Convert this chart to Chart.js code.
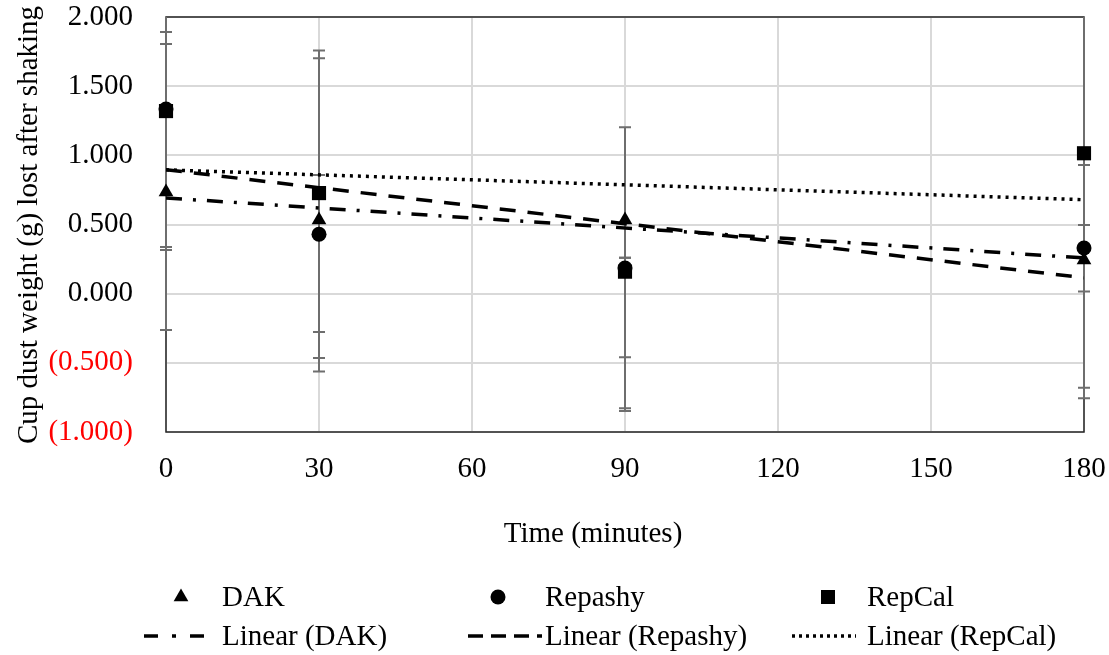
<!DOCTYPE html>
<html><head><meta charset="utf-8">
<script src="https://cdn.jsdelivr.net/npm/chart.js@4.4.1/dist/chart.umd.min.js"></script>
<style>html,body{margin:0;padding:0;background:#fff;} canvas{display:block;}</style>
</head><body>
<canvas id="c" width="1109" height="655"></canvas>
<script>
// ---- data ----
const times = [0, 30, 90, 180];
const dak = [0.735, 0.532, 0.533, 0.243];
const repashy = [1.335, 0.430, 0.185, 0.330];
const repcal = [1.320, 0.727, 0.159, 1.015];
const dakErrPlus = [1.070, 1.170, 0.670, 0.254];
const dakErrMinus = [0.419, 1.095, 0.993, 0.228];
const repashyErrPlus = [0.557, 0.428, 0.075, 0.600];
const repashyErrMinus = [0.997, 0.895, 1.014, 1.086];
const repcalErrPlus = [1.580, 1.030, 0.100, 1.700];
const repcalErrMinus = [1.582, 1.004, 1.007, 1.695];
const trendX = [0, 180];
const dakTrend = [0.692, 0.258];
const repashyTrend = [0.896, 0.115];
const repcalTrend = [0.895, 0.679];
const xTickValues = [0, 30, 60, 90, 120, 150, 180];
const xTickLabels = ['0', '30', '60', '90', '120', '150', '180'];
const yTickValues = [-1, -0.5, 0, 0.5, 1, 1.5, 2];
const yTickLabels = ['(1.000)', '(0.500)', '0.000', '0.500', '1.000', '1.500', '2.000'];
const xTitle = 'Time (minutes)';
const yTitle = 'Cup dust weight (g) lost after shaking';

const FONT = '"Liberation Serif", "Times New Roman", serif';
const FS = 29;
const pts = (arr) => arr.map((v, i) => ({x: times[i], y: v}));
const tpts = (arr) => arr.map((v, i) => ({x: trendX[i], y: v}));

const errSeries = [
  {values: dak, plus: dakErrPlus, minus: dakErrMinus},
  {values: repashy, plus: repashyErrPlus, minus: repashyErrMinus},
  {values: repcal, plus: repcalErrPlus, minus: repcalErrMinus}
];

const framePlugin = {
  id: 'frameAndErr',
  beforeDatasetsDraw(chart) {
    const {ctx, chartArea: a, scales: {x, y}} = chart;
    ctx.save();
    ctx.strokeStyle = '#262626';
    ctx.lineWidth = 1.5;
    ctx.strokeRect(a.left, a.top, a.right - a.left, a.bottom - a.top);
    ctx.beginPath();
    ctx.rect(a.left - 20, a.top, a.right - a.left + 40, a.bottom - a.top);
    ctx.clip();
    ctx.strokeStyle = '#6e6e6e';
    ctx.lineWidth = 2;
    errSeries.forEach(s => {
      s.values.forEach((v, i) => {
        const px = x.getPixelForValue(times[i]);
        const yt = y.getPixelForValue(v + s.plus[i]);
        const yb = y.getPixelForValue(v - s.minus[i]);
        ctx.beginPath();
        ctx.moveTo(px, yt); ctx.lineTo(px, yb);
        ctx.moveTo(px - 6, yt); ctx.lineTo(px + 6, yt);
        ctx.moveTo(px - 6, yb); ctx.lineTo(px + 6, yb);
        ctx.stroke();
      });
    });
    ctx.restore();
  },
  afterDraw(chart) {
    const {ctx} = chart;
    ctx.save();
    ctx.fillStyle = '#000';
    ctx.font = FS + 'px ' + FONT;
    // axis titles
    ctx.textAlign = 'center';
    ctx.textBaseline = 'middle';
    ctx.fillText(xTitle, 593, 534);
    ctx.save();
    ctx.translate(29, 225);
    ctx.rotate(-Math.PI / 2);
    ctx.fillText(yTitle, 0, 0);
    ctx.restore();
    // legend
    const ds = chart.data.datasets;
    const markerPos = [181, 498, 828];
    const markerText = [222, 545, 867];
    const lineStart = [144, 468, 792];
    const lineEnd = [205, 542, 856];
    const lineText = [222, 545, 867];
    const row1 = 597, row2 = 636;
    ctx.textAlign = 'left';
    for (let k = 0; k < 3; k++) {
      const d = ds[k];
      drawMarker(ctx, d.pointStyle, markerPos[k], row1, 1);
      ctx.fillStyle = '#000';
      ctx.fillText(d.label, markerText[k], row1 + 1);
      const t = ds[k + 3];
      ctx.save();
      ctx.strokeStyle = '#000';
      ctx.lineWidth = 3.5;
      ctx.setLineDash(t.legendDash);
      ctx.beginPath();
      ctx.moveTo(lineStart[k], row2); ctx.lineTo(lineEnd[k], row2);
      ctx.stroke();
      ctx.restore();
      ctx.fillText(t.label, lineText[k], row2 + 1);
    }
    ctx.restore();
  }
};

function drawMarker(ctx, style, x, y, s) {
  ctx.fillStyle = '#000';
  ctx.beginPath();
  if (style === 'triangle') {
    const r = 8.5 * s;
    ctx.moveTo(x, y - r);
    ctx.lineTo(x + 0.866 * r, y + 0.5 * r);
    ctx.lineTo(x - 0.866 * r, y + 0.5 * r);
    ctx.closePath();
  } else if (style === 'circle') {
    ctx.arc(x, y, 7.5 * s, 0, Math.PI * 2);
  } else {
    ctx.rect(x - 7 * s, y - 7 * s, 14 * s, 14 * s);
  }
  ctx.fill();
}

const zeroPad = (s) => { s.paddingTop = 0; s.paddingBottom = 0; s.paddingLeft = 0; s.paddingRight = 0; };

new Chart(document.getElementById('c'), {
  type: 'scatter',
  data: {
    datasets: [
      {label: 'DAK', data: pts(dak), pointStyle: 'triangle', pointRadius: 8.5, backgroundColor: '#000', borderColor: '#000', borderWidth: 0, showLine: false, clip: false},
      {label: 'Repashy', data: pts(repashy), pointStyle: 'circle', pointRadius: 7.5, backgroundColor: '#000', borderColor: '#000', borderWidth: 0, showLine: false, clip: false},
      {label: 'RepCal', data: pts(repcal), pointStyle: 'rect', pointRadius: 10, backgroundColor: '#000', borderColor: '#000', borderWidth: 0, showLine: false, clip: false},
      {label: 'Linear (DAK)', type: 'line', data: tpts(dakTrend), borderColor: '#000', borderWidth: 3.5, borderDash: [16, 11, 3, 11], legendDash: [14, 14, 4, 14], pointRadius: 0, fill: false},
      {label: 'Linear (Repashy)', type: 'line', data: tpts(repashyTrend), borderColor: '#000', borderWidth: 3.5, borderDash: [16, 12], legendDash: [15, 8], pointRadius: 0, fill: false},
      {label: 'Linear (RepCal)', type: 'line', data: tpts(repcalTrend), borderColor: '#000', borderWidth: 3.5, borderDash: [3, 5], legendDash: [3, 4], pointRadius: 0, fill: false}
    ]
  },
  options: {
    responsive: false,
    animation: false,
    devicePixelRatio: 1,
    layout: {padding: {left: 0, right: 25, top: 17, bottom: 0}},
    plugins: {legend: {display: false}, tooltip: {enabled: false}},
    scales: {
      x: {
        type: 'linear', min: 0, max: 180,
        afterBuildTicks: (s) => { s.ticks = xTickValues.map(v => ({value: v})); },
        ticks: {
          padding: 20, color: '#000', font: {family: FONT, size: FS},
          callback: (v) => xTickLabels[xTickValues.indexOf(v)]
        },
        grid: {color: '#d9d9d9', lineWidth: 2, drawTicks: false},
        border: {display: false},
        afterFit: (s) => { s.height = 223; zeroPad(s); }
      },
      y: {
        min: -1, max: 2,
        afterBuildTicks: (s) => { s.ticks = yTickValues.map(v => ({value: v})); },
        ticks: {
          padding: 33, font: {family: FONT, size: FS},
          color: (c) => (c.tick && c.tick.value < 0) ? '#ff0000' : '#000',
          callback: (v) => yTickLabels[yTickValues.indexOf(v)]
        },
        grid: {color: '#d9d9d9', lineWidth: 2, drawTicks: false},
        border: {display: false},
        afterFit: (s) => { s.width = 166; zeroPad(s); }
      }
    }
  },
  plugins: [framePlugin]
});
</script>
</body></html>
